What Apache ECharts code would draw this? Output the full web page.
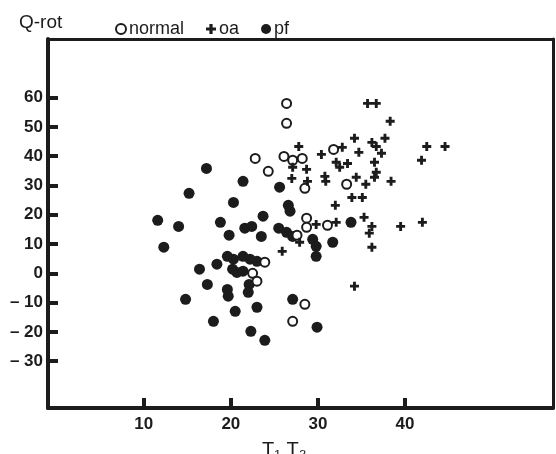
<!DOCTYPE html>
<html>
<head>
<meta charset="utf-8">
<script src="https://cdn.jsdelivr.net/npm/echarts@6/dist/echarts.min.js"></script>
<style>
  html, body { margin: 0; padding: 0; background: #fff; }
  #chart { width: 556px; height: 454px; }
</style>
</head>
<body>
<div id="chart"></div>
<script>
// values: [T1 T2, Q-rot]
var normalPts = [
  [22.8, 39.2], [24.3, 34.8], [26.4, 58.0], [26.4, 51.2], [26.1, 39.9],
  [27.1, 38.6], [28.2, 39.2], [28.5, 29.0], [31.8, 42.3], [33.3, 30.4],
  [28.7, 18.8], [28.7, 15.7], [31.1, 16.4], [27.6, 13.0], [23.9, 3.8],
  [22.5, 0.0], [23.0, -2.7], [28.5, -10.6], [27.1, -16.4]
]
var oaPts = [
  [35.7, 58.0], [36.7, 58.0], [38.3, 51.9], [34.2, 46.1], [37.7, 46.1],
  [36.2, 44.7], [36.7, 43.3], [37.3, 41.0], [27.8, 43.3], [42.5, 43.3],
  [44.6, 43.3], [41.9, 38.6], [30.4, 40.6], [32.8, 43.0], [34.7, 41.3],
  [27.1, 36.2], [28.7, 35.5], [32.1, 37.9], [32.5, 36.2], [33.4, 37.5],
  [30.8, 33.1], [30.9, 31.4], [27.0, 32.4], [28.8, 31.4], [34.4, 32.8],
  [35.5, 30.4], [36.5, 37.9], [36.7, 34.5], [36.5, 32.8], [38.4, 31.4],
  [33.9, 25.9], [35.1, 25.9], [32.0, 23.2], [35.3, 19.1], [29.8, 16.7],
  [32.1, 17.4], [36.2, 16.0], [35.9, 13.7], [39.5, 16.0], [42.0, 17.4],
  [36.2, 8.9], [25.9, 7.5], [27.9, 10.6], [34.2, -4.4]
]
var pfPts = [
  [11.6, 18.1], [12.3, 8.9], [14.0, 16.0], [15.2, 27.3], [17.2, 35.8],
  [14.8, -8.9], [16.4, 1.4], [17.3, -3.8], [18.0, -16.4], [18.8, 17.4],
  [19.8, 13.0], [20.3, 24.2], [21.4, 31.4], [19.6, 5.8], [18.4, 3.1],
  [20.3, 4.8], [21.4, 5.8], [22.2, 4.8], [23.0, 4.1], [20.2, 1.4],
  [20.7, 0.3], [21.4, 0.7], [19.6, -5.5], [19.7, -7.8], [22.1, -3.8],
  [22.0, -6.5], [20.5, -13.0], [23.0, -11.6], [22.3, -19.8], [23.9, -22.9],
  [21.6, 15.4], [22.4, 16.0], [23.5, 12.6], [23.7, 19.5], [25.6, 29.4],
  [26.6, 23.2], [26.8, 21.2], [25.5, 15.4], [26.4, 14.0], [27.1, 12.6],
  [29.4, 11.6], [29.8, 9.2], [31.7, 10.6], [29.8, 5.8], [27.1, -8.9],
  [29.9, -18.4], [33.8, 17.4]
]
var xTicks = [10, 20, 30, 40]
var yTicks = [-30, -20, -10, 0, 10, 20, 30, 40, 50, 60]

var ink = '#1c1c1c'
var plusPath = 'path://M3.4,0H6.6V3.4H10V6.6H6.6V10H3.4V6.6H0V3.4H3.4Z'
var labelFont = '"Liberation Sans Narrow", "Liberation Sans", Arial, sans-serif'
var textFont = '"Liberation Sans", Arial, sans-serif'

// plain frame line for the top and right sides
var frameAxis = {
  axisLine: { show: true, onZero: false, lineStyle: { color: ink, width: 3 } },
  axisTick: { show: false }, axisLabel: { show: false }, splitLine: { show: false }
}

var chart = echarts.init(document.getElementById('chart'))
chart.setOption({
  animation: false,
  backgroundColor: '#fff',
  grid: { left: 48, right: 3, top: 39, bottom: 46 },
  legend: {
    left: 110, top: 15,
    itemWidth: 10, itemHeight: 10, itemGap: 22,
    data: ['normal', 'oa', 'pf'],
    textStyle: { color: ink, fontSize: 18, fontFamily: textFont, padding: [0, 0, 0, -2] }
  },
  graphic: [
    { type: 'text', left: 19, top: 13, style: { text: 'Q-rot', fontSize: 19, fill: ink, fontFamily: textFont } },
    { type: 'text', left: 262, top: 440, style: { text: 'T₁ T₂', fontSize: 20, fill: ink, fontFamily: textFont } }
  ],
  xAxis: [
    {
      type: 'value', min: -1, max: 57,
      axisLine: { onZero: false, lineStyle: { color: ink, width: 4 } },
      axisTick: { show: true, inside: true, length: 10, lineStyle: { color: ink, width: 4 }, customValues: xTicks },
      axisLabel: { customValues: xTicks, color: ink, fontSize: 17, fontWeight: 'bold', fontFamily: labelFont, margin: 8 },
      splitLine: { show: false }
    },
    Object.assign({ type: 'value', position: 'top', min: -1, max: 57 }, frameAxis)
  ],
  yAxis: [
    {
      type: 'value', min: -46, max: 80,
      axisLine: { show: true, onZero: false, lineStyle: { color: ink, width: 4 } },
      axisTick: { show: true, inside: true, length: 10, lineStyle: { color: ink, width: 4 }, customValues: yTicks },
      axisLabel: {
        customValues: yTicks, color: ink, fontSize: 17, fontWeight: 'bold', fontFamily: labelFont, margin: 5,
        formatter: function (v) { return v < 0 ? '\u2013 ' + Math.abs(v) : String(v) }
      },
      splitLine: { show: false }
    },
    Object.assign({ type: 'value', position: 'right', min: -46, max: 80 }, frameAxis)
  ],
  series: [
    {
      name: 'pf', type: 'scatter', data: pfPts, symbol: 'circle', symbolSize: 11,
      itemStyle: { color: ink, opacity: 1 }
    },
    {
      name: 'normal', type: 'scatter', data: normalPts, symbol: 'circle', symbolSize: 9,
      itemStyle: { color: '#fff', borderColor: ink, borderWidth: 2, opacity: 1 }
    },
    {
      name: 'oa', type: 'scatter', data: oaPts, symbol: plusPath, symbolSize: 9,
      itemStyle: { color: ink, opacity: 1 }
    }
  ]
})
</script>
</body>
</html>
